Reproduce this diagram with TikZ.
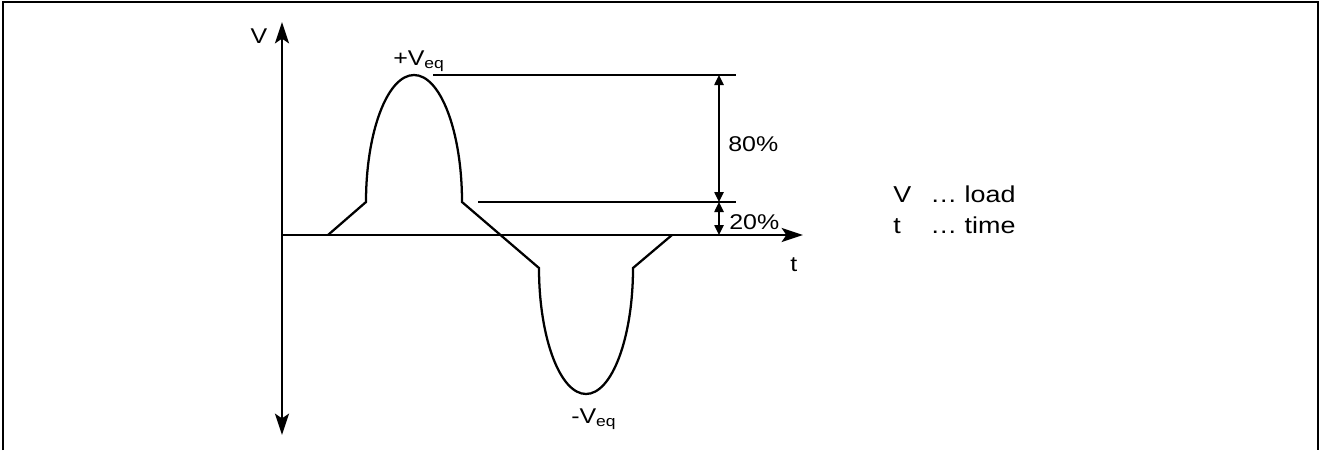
\documentclass[tikz,border=0pt]{standalone}
\usepackage{fontspec}
\setmainfont{Liberation Sans}[FakeStretch=1.17]
\usepackage{tikz}
\usetikzlibrary{arrows.meta, positioning}

\begin{document}
\begin{tikzpicture}[x=0.75pt, y=0.75pt,
  every node/.style={font=\fontsize{16}{19}\selectfont, inner sep=0pt},
  >={Stealth[length=16pt, width=10.5pt, inset=3.5pt]},
  axis/.style={line width=1.7pt},
  wave/.style={line width=1.7pt, line join=miter},
  guide/.style={line width=1pt},
  dim/.style={line width=1.1pt, {Triangle[length=7.5pt, width=7pt]}-{Triangle[length=7.5pt, width=7pt]}}]
  \useasboundingbox (-282,-215) rectangle (1037,235);
  % frame, open at the bottom
  \draw[line width=1.1pt] (-279,-215) -- (-279,233) -- (1036,233) -- (1036,-215);

  % axes
  \coordinate (O) at (0,0);
  \coordinate (Vtop) at (0,213);
  \coordinate (Vbot) at (0,-200);
  \coordinate (tend) at (521,0);
  \draw[axis, <->] (Vbot) -- (Vtop);
  \draw[axis, ->] (O) -- (tend);
  \node[anchor=base] (vlab) at (-23,191) {V};
  \node[anchor=base west] (tlab) at (508,-36) {t};

  % load pulse
  \draw[wave] (46,0) -- (84,33)
    arc[start angle=180, end angle=0, x radius=48, y radius=127]
    -- (257,-33)
    arc[start angle=180, end angle=360, x radius=47, y radius=126]
    -- (390,0);
  \node[anchor=base west] (vplus) at (111,170) {+V\textsubscript{eq}};
  \node[anchor=base west] (vminus) at (289,-188) {-V\textsubscript{eq}};

  % levels
  \coordinate (g1a) at (151,160);
  \coordinate (g1b) at (454,160);
  \coordinate (g2a) at (196,33);
  \coordinate (g2b) at (454,33);
  \draw[guide] (g1a) -- (g1b);
  \draw[guide] (g2a) -- (g2b);
  \coordinate (d80) at (437,160);
  \coordinate (d20) at (437,33);
  \coordinate (d0) at (437,0);
  \draw[dim] (d80) -- (d20);
  \draw[dim] (d20) -- (d0);
  \node[anchor=base west] (p80) at (446,84) {80\%};
  \node[anchor=base west] (p20) at (447,6) {20\%};

  % legend
  \node[anchor=west, font=\fontsize{17.25}{23.25}\selectfont] (legend) at (611,23.7)
    {\begin{tabular}{@{}p{27.75pt}@{}l@{}}
      V & … load\\
      t & … time
    \end{tabular}};
\end{tikzpicture}
\end{document}
